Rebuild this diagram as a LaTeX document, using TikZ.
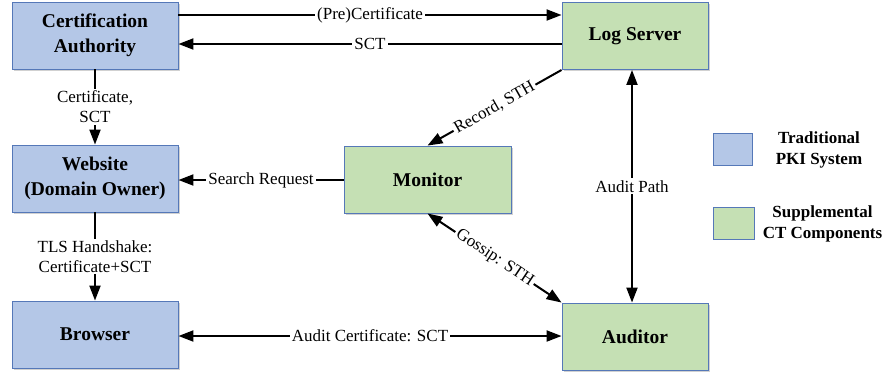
\documentclass[tikz,border=0pt]{standalone}
\usepackage{fontspec}
\setmainfont{Liberation Serif}
\usetikzlibrary{arrows.meta,shadows}

\definecolor{pkiblue}{HTML}{B4C7E7}
\definecolor{ctgreen}{HTML}{C5E0B4}
\definecolor{boxedge}{HTML}{5578B8}

\tikzset{
  box/.style={draw=boxedge, line width=0.9pt, minimum width=#1, minimum height=67pt,
    align=center, font=\fontsize{19.5}{25}\selectfont\bfseries, inner sep=0pt,
    drop shadow={shadow xshift=1.5pt, shadow yshift=-1.5pt, opacity=0.18, fill=black}},
  pki/.style={box=166pt, fill=pkiblue},
  ct/.style={box=146pt, fill=ctgreen},
  keybox/.style={draw=boxedge, line width=0.9pt, minimum width=39pt, minimum height=32pt,
    inner sep=0pt, drop shadow={shadow xshift=1pt, shadow yshift=-1pt, opacity=0.18, fill=black}},
  keytext/.style={align=center, font=\fontsize{17}{21}\selectfont\bfseries, inner sep=0pt},
  tip/.tip={Triangle[length=15pt,width=11pt]},
  conn/.style={line width=2pt, -tip},
  conn2/.style={line width=2pt, tip-tip},
  lbl/.style={fill=white, inner sep=2pt, align=center, font=\fontsize{17}{20}\selectfont}
}

\begin{document}
\begin{tikzpicture}[x=1pt,y=-1pt]
  \useasboundingbox (0,0) rectangle (885,373);

  % PKI side
  \node[pki] (ca)  at (95,35.5)  {Certification\\Authority};
  \node[pki] (web) at (95,178.5) {Website\\(Domain Owner)};
  \node[pki] (br)  at (95,334.5) {Browser};

  % CT side
  \node[ct] (ls)  at (635,36)      {Log Server};
  \node[box=167pt, fill=ctgreen] (mon) at (427.5,179.5) {Monitor};
  \node[ct] (aud) at (635,336.5)   {Auditor};

  % key
  \node[keybox, fill=pkiblue] (kpki) at (732.5,149) {};
  \node[keytext] (kpkit) at (819,150) {Traditional\\PKI System};
  \node[keybox, minimum width=41pt, fill=ctgreen] (kct) at (733.5,223) {};
  \node[keytext] (kctt) at (822.5,224) {Supplemental\\CT Components};

  % connectors
  \draw[conn] (ca.east |- 0,15) -- node[lbl] {(Pre)Certificate} (ls.west |- 0,15);
  \draw[conn] (ls.west |- 0,44) -- node[lbl] {SCT} (ca.east |- 0,44);
  \draw[conn] (ca.south) -- node[lbl] {Certificate,\\SCT} (web.north);
  \draw[conn] (web.south) -- node[lbl] {TLS Handshake:\\Certificate+SCT} (br.north);
  \draw[conn] (mon.west |- 0,180) -- node[lbl] {Search Request} (web.east |- 0,180);
  \draw[conn] (ls.south west) -- node[lbl, sloped] {Record, STH} (mon.north);
  \draw[conn2] (mon.south) -- node[lbl, sloped] {Gossip: STH} (aud.north west);
  \draw[conn2] ([xshift=-3pt]ls.south) -- node[lbl] {Audit Path} ([xshift=-3pt]aud.north);
  \draw[conn2] (br.east |- 0,336) -- node[lbl] {Audit Certificate: SCT} (aud.west |- 0,336);
\end{tikzpicture}
\end{document}
